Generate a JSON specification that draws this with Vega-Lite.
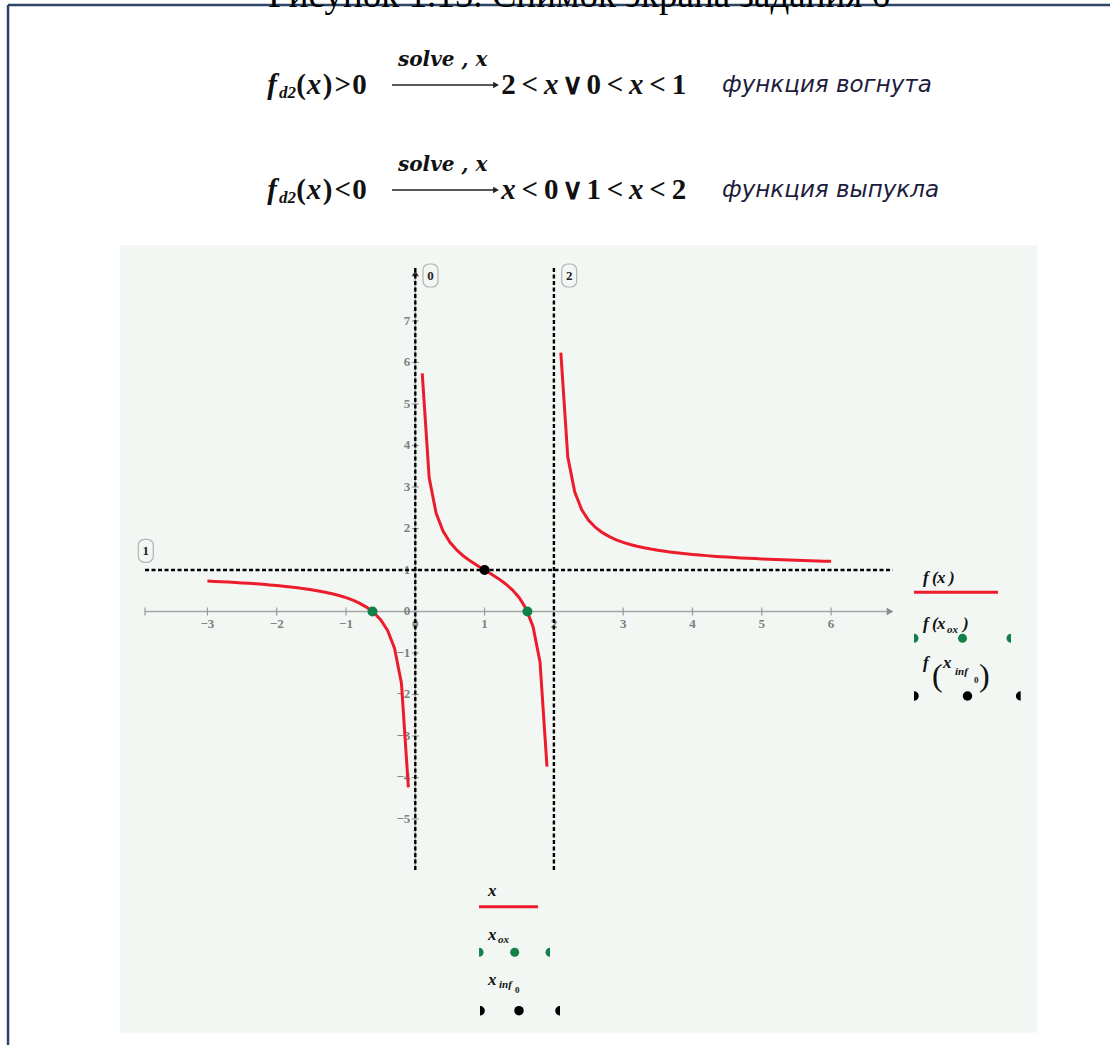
{
"$schema": "https://vega.github.io/schema/vega-lite/v6.json",
"width": 1110, "height": 1045,
"autosize": {"type": "none"},
"padding": 0,
"background": "#ffffff",
"config": {"view": {"stroke": null}},
"encoding": {
  "x": {"field": "x", "type": "quantitative", "scale": {"domain": [-5.9928, 10.0245], "nice": false, "zero": false}, "axis": null},
  "y": {"field": "y", "type": "quantitative", "scale": {"domain": [-10.4458, 14.7349], "nice": false, "zero": false}, "axis": null}
},
"datasets": {
  "panel": [{"x": -4.261, "x2": 8.971, "y": 8.831, "y2": -10.149}],
  "border": [{"x": -5.877, "y": 14.614, "x2": 10.03, "y2": 14.614}, {"x": -5.877, "y": 14.614, "x2": -5.877, "y2": -10.45}],
  "title": [{"x": 2.363, "y": 14.566, "t": "Рисунок 1.15. Снимок экрана задания 6"}],
  "mathUp": [
    {"x": -1.649, "y": 12.47, "t": "("}, {"x": -1.267, "y": 12.47, "t": ")"}, {"x": -1.045, "y": 12.47, "t": ">"}, {"x": -0.805, "y": 12.47, "t": "0"},
    {"x": 1.345, "y": 12.47, "t": "2"}, {"x": 1.652, "y": 12.47, "t": "<"}, {"x": 2.267, "y": 12.47, "t": "∨"}, {"x": 2.574, "y": 12.47, "t": "0"}, {"x": 2.882, "y": 12.47, "t": "<"}, {"x": 3.496, "y": 12.47, "t": "<"}, {"x": 3.804, "y": 12.47, "t": "1"},
    {"x": -1.649, "y": 9.94, "t": "("}, {"x": -1.267, "y": 9.94, "t": ")"}, {"x": -1.045, "y": 9.94, "t": "<"}, {"x": -0.805, "y": 9.94, "t": "0"},
    {"x": 1.652, "y": 9.94, "t": "<"}, {"x": 1.96, "y": 9.94, "t": "0"}, {"x": 2.267, "y": 9.94, "t": "∨"}, {"x": 2.574, "y": 9.94, "t": "1"}, {"x": 2.882, "y": 9.94, "t": "<"}, {"x": 3.496, "y": 9.94, "t": "<"}, {"x": 3.804, "y": 9.94, "t": "2"}
  ],
  "mathIt": [
    {"x": -2.068, "y": 12.47, "t": "f"}, {"x": -1.462, "y": 12.47, "t": "x"}, {"x": 1.96, "y": 12.47, "t": "x"}, {"x": 3.189, "y": 12.47, "t": "x"},
    {"x": -2.068, "y": 9.94, "t": "f"}, {"x": -1.462, "y": 9.94, "t": "x"}, {"x": 1.345, "y": 9.94, "t": "x"}, {"x": 3.189, "y": 9.94, "t": "x"}
  ],
  "mathSub": [{"x": -1.844, "y": 12.373, "t": "d2"}, {"x": -1.844, "y": 9.843, "t": "d2"}],
  "solve": [{"x": -0.25, "y": 13.145, "t": "solve , x"}, {"x": -0.25, "y": 10.615, "t": "solve , x"}],
  "arrows": [{"x": -0.336, "y": 12.687, "x2": 1.15, "y2": 12.687}, {"x": -0.336, "y": 10.157, "x2": 1.15, "y2": 10.157}],
  "arrowHeads": [{"x": 1.165, "y": 12.687}, {"x": 1.165, "y": 10.157}],
  "ru": [{"x": 4.426, "y": 12.518, "t": "функция вогнута"}, {"x": 4.426, "y": 9.988, "t": "функция выпукла"}],
  "axisLines": [{"x": -3.9, "y": 0, "x2": 6.8, "y2": 0}, {"x": 0, "y": -6.229, "x2": 0, "y2": 8.1}],
  "xArrow": [{"x": 6.85, "y": 0}],
  "yArrow": [{"x": 0, "y": 8.15}],
  "xTicks": [{"x": -3.9, "y": 0}, {"x": -3, "y": 0}, {"x": -2, "y": 0}, {"x": -1, "y": 0}, {"x": 0, "y": 0}, {"x": 1, "y": 0}, {"x": 2, "y": 0}, {"x": 3, "y": 0}, {"x": 4, "y": 0}, {"x": 5, "y": 0}, {"x": 6, "y": 0}],
  "yTicks": [{"x": 0, "y": -5}, {"x": 0, "y": -4}, {"x": 0, "y": -3}, {"x": 0, "y": -2}, {"x": 0, "y": -1}, {"x": 0, "y": 0}, {"x": 0, "y": 1}, {"x": 0, "y": 2}, {"x": 0, "y": 3}, {"x": 0, "y": 4}, {"x": 0, "y": 5}, {"x": 0, "y": 6}, {"x": 0, "y": 7}],
  "xLabels": [{"x": -3, "y": 0, "t": "−3"}, {"x": -2, "y": 0, "t": "−2"}, {"x": -1, "y": 0, "t": "−1"}, {"x": 0, "y": 0, "t": "0"}, {"x": 1, "y": 0, "t": "1"}, {"x": 2, "y": 0, "t": "2"}, {"x": 3, "y": 0, "t": "3"}, {"x": 4, "y": 0, "t": "4"}, {"x": 5, "y": 0, "t": "5"}, {"x": 6, "y": 0, "t": "6"}],
  "yLabels": [{"x": 0, "y": -5, "t": "−5"}, {"x": 0, "y": -4, "t": "−4"}, {"x": 0, "y": -3, "t": "−3"}, {"x": 0, "y": -2, "t": "−2"}, {"x": 0, "y": -1, "t": "−1"}, {"x": 0, "y": 0, "t": "0"}, {"x": 0, "y": 1, "t": "1"}, {"x": 0, "y": 2, "t": "2"}, {"x": 0, "y": 3, "t": "3"}, {"x": 0, "y": 4, "t": "4"}, {"x": 0, "y": 5, "t": "5"}, {"x": 0, "y": 6, "t": "6"}, {"x": 0, "y": 7, "t": "7"}],
  "asym": [{"x": 0, "y": 8.28, "x2": 0, "y2": -6.23}, {"x": 2, "y": 8.28, "x2": 2, "y2": -6.23}, {"x": -3.9, "y": 1, "x2": 6.89, "y2": 1}],
  "curve": [
    {"x": -3.0, "y": 0.7333, "b": 1}, {"x": -2.9, "y": 0.7255, "b": 1}, {"x": -2.8, "y": 0.7173, "b": 1}, {"x": -2.7, "y": 0.7084, "b": 1}, {"x": -2.6, "y": 0.699, "b": 1}, {"x": -2.5, "y": 0.6889, "b": 1}, {"x": -2.4, "y": 0.678, "b": 1}, {"x": -2.3, "y": 0.6663, "b": 1}, {"x": -2.2, "y": 0.6537, "b": 1}, {"x": -2.1, "y": 0.64, "b": 1}, {"x": -2.0, "y": 0.625, "b": 1}, {"x": -1.9, "y": 0.6086, "b": 1}, {"x": -1.8, "y": 0.5906, "b": 1}, {"x": -1.7, "y": 0.5707, "b": 1}, {"x": -1.6, "y": 0.5486, "b": 1}, {"x": -1.5, "y": 0.5238, "b": 1}, {"x": -1.4, "y": 0.4958, "b": 1}, {"x": -1.3, "y": 0.4639, "b": 1}, {"x": -1.2, "y": 0.4271, "b": 1}, {"x": -1.1, "y": 0.3842, "b": 1}, {"x": -1.0, "y": 0.3333, "b": 1}, {"x": -0.9, "y": 0.272, "b": 1}, {"x": -0.8, "y": 0.1964, "b": 1}, {"x": -0.7, "y": 0.1005, "b": 1}, {"x": -0.6, "y": -0.0256, "b": 1}, {"x": -0.5, "y": -0.2, "b": 1}, {"x": -0.4, "y": -0.4583, "b": 1}, {"x": -0.3, "y": -0.8841, "b": 1}, {"x": -0.2, "y": -1.7273, "b": 1}, {"x": -0.1, "y": -4.2381, "b": 1},
    {"x": 0.1, "y": 5.7368, "b": 2}, {"x": 0.2, "y": 3.2222, "b": 2}, {"x": 0.3, "y": 2.3725, "b": 2}, {"x": 0.4, "y": 1.9375, "b": 2}, {"x": 0.5, "y": 1.6667, "b": 2}, {"x": 0.6, "y": 1.4762, "b": 2}, {"x": 0.7, "y": 1.3297, "b": 2}, {"x": 0.8, "y": 1.2083, "b": 2}, {"x": 0.9, "y": 1.101, "b": 2}, {"x": 1.0, "y": 1.0, "b": 2}, {"x": 1.1, "y": 0.899, "b": 2}, {"x": 1.2, "y": 0.7917, "b": 2}, {"x": 1.3, "y": 0.6703, "b": 2}, {"x": 1.4, "y": 0.5238, "b": 2}, {"x": 1.5, "y": 0.3333, "b": 2}, {"x": 1.6, "y": 0.0625, "b": 2}, {"x": 1.7, "y": -0.3725, "b": 2}, {"x": 1.8, "y": -1.2222, "b": 2}, {"x": 1.9, "y": -3.7368, "b": 2},
    {"x": 2.1, "y": 6.2381, "b": 3}, {"x": 2.2, "y": 3.7273, "b": 3}, {"x": 2.3, "y": 2.8841, "b": 3}, {"x": 2.4, "y": 2.4583, "b": 3}, {"x": 2.5, "y": 2.2, "b": 3}, {"x": 2.6, "y": 2.0256, "b": 3}, {"x": 2.7, "y": 1.8995, "b": 3}, {"x": 2.8, "y": 1.8036, "b": 3}, {"x": 2.9, "y": 1.728, "b": 3}, {"x": 3.0, "y": 1.6667, "b": 3}, {"x": 3.1, "y": 1.6158, "b": 3}, {"x": 3.2, "y": 1.5729, "b": 3}, {"x": 3.3, "y": 1.5361, "b": 3}, {"x": 3.4, "y": 1.5042, "b": 3}, {"x": 3.5, "y": 1.4762, "b": 3}, {"x": 3.6, "y": 1.4514, "b": 3}, {"x": 3.7, "y": 1.4293, "b": 3}, {"x": 3.8, "y": 1.4094, "b": 3}, {"x": 3.9, "y": 1.3914, "b": 3}, {"x": 4.0, "y": 1.375, "b": 3}, {"x": 4.1, "y": 1.36, "b": 3}, {"x": 4.2, "y": 1.3463, "b": 3}, {"x": 4.3, "y": 1.3337, "b": 3}, {"x": 4.4, "y": 1.322, "b": 3}, {"x": 4.5, "y": 1.3111, "b": 3}, {"x": 4.6, "y": 1.301, "b": 3}, {"x": 4.7, "y": 1.2916, "b": 3}, {"x": 4.8, "y": 1.2827, "b": 3}, {"x": 4.9, "y": 1.2745, "b": 3}, {"x": 5.0, "y": 1.2667, "b": 3}, {"x": 5.1, "y": 1.2593, "b": 3}, {"x": 5.2, "y": 1.2524, "b": 3}, {"x": 5.3, "y": 1.2459, "b": 3}, {"x": 5.4, "y": 1.2397, "b": 3}, {"x": 5.5, "y": 1.2338, "b": 3}, {"x": 5.6, "y": 1.2282, "b": 3}, {"x": 5.7, "y": 1.2229, "b": 3}, {"x": 5.8, "y": 1.2178, "b": 3}, {"x": 5.9, "y": 1.2129, "b": 3}, {"x": 6.0, "y": 1.2083, "b": 3}
  ],
  "zeros": [{"x": -0.618, "y": 0}, {"x": 1.618, "y": 0}],
  "infl": [{"x": 1, "y": 1}],
  "boxes": [{"x": 0.111, "x2": 0.328, "y": 8.373, "y2": 7.819}, {"x": 2.113, "x2": 2.329, "y": 8.373, "y2": 7.819}, {"x": -3.997, "x2": -3.781, "y": 1.74, "y2": 1.186}],
  "boxText": [{"x": 0.219, "y": 8.096, "t": "0"}, {"x": 2.221, "y": 8.096, "t": "2"}, {"x": -3.889, "y": 1.463, "t": "1"}],
  "legLines": [{"x": 7.196, "y": 0.463, "x2": 8.408, "y2": 0.463}, {"x": 0.92, "y": -7.113, "x2": 1.771, "y2": -7.113}],
  "greenFull": [{"x": 7.896, "y": -0.646}, {"x": 1.434, "y": -8.212}],
  "greenR": [{"x": 7.196, "y": -0.646}, {"x": 0.92, "y": -8.212}],
  "greenL": [{"x": 8.596, "y": -0.646}, {"x": 1.944, "y": -8.212}],
  "blackFull": [{"x": 7.968, "y": -2.036}, {"x": 1.496, "y": -9.619}],
  "blackR": [{"x": 7.196, "y": -2.036}, {"x": 0.934, "y": -9.619}],
  "blackL": [{"x": 8.736, "y": -2.036}, {"x": 2.088, "y": -9.619}],
  "legMain": [
    {"x": 7.326, "y": 0.687, "t": "f"}, {"x": 7.456, "y": 0.687, "t": "("}, {"x": 7.528, "y": 0.687, "t": "x"}, {"x": 7.701, "y": 0.687, "t": ")"},
    {"x": 7.326, "y": -0.422, "t": "f"}, {"x": 7.456, "y": -0.422, "t": "("}, {"x": 7.528, "y": -0.422, "t": "x"}, {"x": 7.903, "y": -0.422, "t": ")"},
    {"x": 7.326, "y": -1.361, "t": "f"}, {"x": 7.614, "y": -1.361, "t": "x"},
    {"x": 1.049, "y": -6.855, "t": "x"}, {"x": 1.049, "y": -7.916, "t": "x"}, {"x": 1.049, "y": -9.0, "t": "x"}
  ],
  "legSub": [{"x": 7.672, "y": -0.518, "t": "ox"}, {"x": 7.788, "y": -1.53, "t": "inf"}, {"x": 1.193, "y": -7.988, "t": "ox"}, {"x": 1.208, "y": -9.072, "t": "inf"}],
  "legSubSub": [{"x": 8.061, "y": -1.723, "t": "0"}, {"x": 1.439, "y": -9.193, "t": "0"}],
  "legParen": [{"x": 7.456, "y": -1.795, "t": "("}, {"x": 8.134, "y": -1.795, "t": ")"}]
},
"layer": [
  {"data": {"name": "panel"}, "mark": {"type": "rect", "color": "#f3f7f3"}, "encoding": {"x2": {"field": "x2"}, "y2": {"field": "y2"}}},
  {"data": {"name": "border"}, "mark": {"type": "rule", "color": "#2e4466", "strokeWidth": 2.5}, "encoding": {"x2": {"field": "x2"}, "y2": {"field": "y2"}}},
  {"data": {"name": "title"}, "mark": {"type": "text", "font": "Liberation Serif", "fontSize": 37, "align": "center", "baseline": "alphabetic", "color": "#000000"}, "encoding": {"text": {"field": "t"}}},
  {"data": {"name": "mathUp"}, "mark": {"type": "text", "font": "Liberation Serif", "fontWeight": "bold", "fontSize": 29, "align": "center", "baseline": "alphabetic", "color": "#111111"}, "encoding": {"text": {"field": "t"}}},
  {"data": {"name": "mathIt"}, "mark": {"type": "text", "font": "Liberation Serif", "fontStyle": "italic", "fontWeight": "bold", "fontSize": 29, "align": "center", "baseline": "alphabetic", "color": "#111111"}, "encoding": {"text": {"field": "t"}}},
  {"data": {"name": "mathSub"}, "mark": {"type": "text", "font": "Liberation Serif", "fontStyle": "italic", "fontWeight": "bold", "fontSize": 17, "align": "center", "baseline": "alphabetic", "color": "#111111"}, "encoding": {"text": {"field": "t"}}},
  {"data": {"name": "solve"}, "mark": {"type": "text", "font": "DejaVu Serif", "fontStyle": "italic", "fontWeight": "bold", "fontSize": 20, "align": "left", "baseline": "alphabetic", "color": "#111111"}, "encoding": {"text": {"field": "t"}}},
  {"data": {"name": "arrows"}, "mark": {"type": "rule", "color": "#222222", "strokeWidth": 1.3}, "encoding": {"x2": {"field": "x2"}, "y2": {"field": "y2"}}},
  {"data": {"name": "arrowHeads"}, "mark": {"type": "point", "shape": "triangle-right", "filled": true, "size": 45, "color": "#222222", "opacity": 1}, "encoding": {}},
  {"data": {"name": "ru"}, "mark": {"type": "text", "font": "DejaVu Sans", "fontStyle": "italic", "fontSize": 23, "align": "left", "baseline": "alphabetic", "color": "#1c1c3c"}, "encoding": {"text": {"field": "t"}}},
  {"data": {"name": "axisLines"}, "mark": {"type": "rule", "color": "#a6a6a6", "strokeWidth": 1.5}, "encoding": {"x2": {"field": "x2"}, "y2": {"field": "y2"}}},
  {"data": {"name": "xArrow"}, "mark": {"type": "point", "shape": "triangle-right", "filled": true, "size": 60, "color": "#8a8a8a", "opacity": 1}, "encoding": {}},
  {"data": {"name": "yArrow"}, "mark": {"type": "point", "shape": "triangle-up", "filled": true, "size": 50, "color": "#333333", "opacity": 1}, "encoding": {}},
  {"data": {"name": "xTicks"}, "mark": {"type": "tick", "orient": "vertical", "size": 8, "thickness": 1.2, "color": "#9a9a9a", "opacity": 1}, "encoding": {}},
  {"data": {"name": "yTicks"}, "mark": {"type": "tick", "orient": "horizontal", "size": 7, "thickness": 1.2, "color": "#9a9a9a", "opacity": 1}, "encoding": {}},
  {"data": {"name": "xLabels"}, "mark": {"type": "text", "font": "Liberation Serif", "fontWeight": "bold", "fontSize": 13, "align": "center", "baseline": "middle", "dy": 13, "color": "#808080"}, "encoding": {"text": {"field": "t"}}},
  {"data": {"name": "yLabels"}, "mark": {"type": "text", "font": "Liberation Serif", "fontWeight": "bold", "fontSize": 13, "align": "right", "baseline": "middle", "dx": -5, "color": "#808080"}, "encoding": {"text": {"field": "t"}}},
  {"data": {"name": "asym"}, "mark": {"type": "rule", "color": "#000000", "strokeWidth": 2.4, "strokeDash": [4, 2.5]}, "encoding": {"x2": {"field": "x2"}, "y2": {"field": "y2"}}},
  {"data": {"name": "curve"}, "mark": {"type": "line", "color": "#ec1c2d", "strokeWidth": 3}, "encoding": {"detail": {"field": "b"}}},
  {"data": {"name": "zeros"}, "mark": {"type": "point", "shape": "circle", "filled": true, "size": 100, "color": "#13804a", "opacity": 1}, "encoding": {}},
  {"data": {"name": "infl"}, "mark": {"type": "point", "shape": "circle", "filled": true, "size": 100, "color": "#000000", "opacity": 1}, "encoding": {}},
  {"data": {"name": "boxes"}, "mark": {"type": "rect", "fill": "#f3f7f3", "stroke": "#b4b4b4", "strokeWidth": 1.2, "cornerRadius": 6}, "encoding": {"x2": {"field": "x2"}, "y2": {"field": "y2"}}},
  {"data": {"name": "boxText"}, "mark": {"type": "text", "font": "Liberation Serif", "fontWeight": "bold", "fontSize": 13, "align": "center", "baseline": "middle", "color": "#222222"}, "encoding": {"text": {"field": "t"}}},
  {"data": {"name": "legLines"}, "mark": {"type": "rule", "color": "#ec1c2d", "strokeWidth": 3}, "encoding": {"x2": {"field": "x2"}, "y2": {"field": "y2"}}},
  {"data": {"name": "greenFull"}, "mark": {"type": "point", "shape": "circle", "filled": true, "size": 81, "color": "#13804a", "opacity": 1}, "encoding": {}},
  {"data": {"name": "greenR"}, "mark": {"type": "point", "shape": "M0,-1 C0.55,-1 1,-0.55 1,0 C1,0.55 0.55,1 0,1 Z", "filled": true, "size": 81, "color": "#13804a", "opacity": 1}, "encoding": {}},
  {"data": {"name": "greenL"}, "mark": {"type": "point", "shape": "M0,-1 C-0.55,-1 -1,-0.55 -1,0 C-1,0.55 -0.55,1 0,1 Z", "filled": true, "size": 81, "color": "#13804a", "opacity": 1}, "encoding": {}},
  {"data": {"name": "blackFull"}, "mark": {"type": "point", "shape": "circle", "filled": true, "size": 90, "color": "#000000", "opacity": 1}, "encoding": {}},
  {"data": {"name": "blackR"}, "mark": {"type": "point", "shape": "M0,-1 C0.55,-1 1,-0.55 1,0 C1,0.55 0.55,1 0,1 Z", "filled": true, "size": 90, "color": "#000000", "opacity": 1}, "encoding": {}},
  {"data": {"name": "blackL"}, "mark": {"type": "point", "shape": "M0,-1 C-0.55,-1 -1,-0.55 -1,0 C-1,0.55 -0.55,1 0,1 Z", "filled": true, "size": 90, "color": "#000000", "opacity": 1}, "encoding": {}},
  {"data": {"name": "legMain"}, "mark": {"type": "text", "font": "Liberation Serif", "fontStyle": "italic", "fontWeight": "bold", "fontSize": 17, "align": "left", "baseline": "alphabetic", "color": "#111111"}, "encoding": {"text": {"field": "t"}}},
  {"data": {"name": "legSub"}, "mark": {"type": "text", "font": "Liberation Serif", "fontStyle": "italic", "fontWeight": "bold", "fontSize": 11, "align": "left", "baseline": "alphabetic", "color": "#111111"}, "encoding": {"text": {"field": "t"}}},
  {"data": {"name": "legSubSub"}, "mark": {"type": "text", "font": "Liberation Serif", "fontWeight": "bold", "fontSize": 9, "align": "left", "baseline": "alphabetic", "color": "#111111"}, "encoding": {"text": {"field": "t"}}},
  {"data": {"name": "legParen"}, "mark": {"type": "text", "font": "Liberation Serif", "fontSize": 32, "align": "left", "baseline": "alphabetic", "color": "#111111"}, "encoding": {"text": {"field": "t"}}}
]
}
